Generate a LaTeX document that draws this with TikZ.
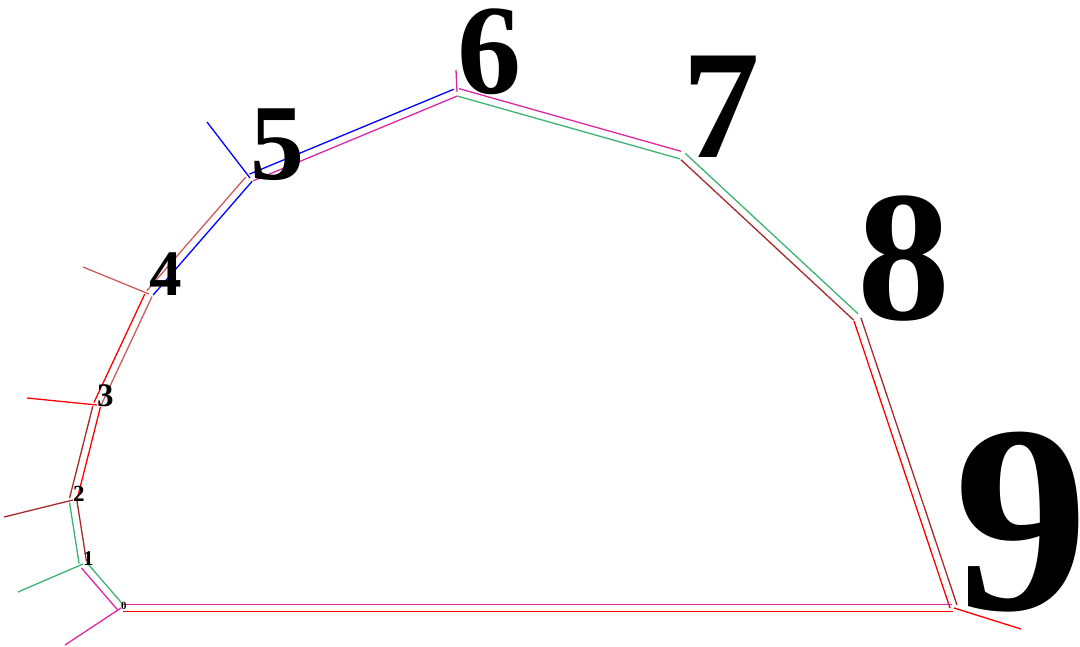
\documentclass[tikz,border=0pt]{standalone}
\usepackage{fontspec}
\setmainfont{Liberation Serif}
\usetikzlibrary{calc}
\definecolor{cmag}{RGB}{220,40,160}
\definecolor{cgreen}{RGB}{60,179,113}
\definecolor{cbrown}{RGB}{165,42,42}
\definecolor{cred}{RGB}{255,0,0}
\definecolor{cind}{RGB}{205,92,92}
\definecolor{cblue}{RGB}{0,0,255}
\begin{document}
\begin{tikzpicture}[x=1pt,y=-1pt,
  he/.style={line width=1.3pt, shorten <=1pt, shorten >=2pt},
  tickline/.style={line width=1.3pt},
  lbl/.style={anchor=base west, inner sep=0pt, outer sep=0pt, yshift=-1.5pt}]
\useasboundingbox (0,0) rectangle (1080,646);
% vertices
\coordinate (v0) at (121,608);
\coordinate (v1) at (83,564);
\coordinate (v2) at (73,500);
\coordinate (v3) at (97,405);
\coordinate (v4) at (149,294);
\coordinate (v5) at (250,178);
\coordinate (v6) at (457,92);
\coordinate (v7) at (682,155.5);
\coordinate (v8) at (857,318);
\coordinate (v9) at (954,608);
% tick ends
\coordinate (t0) at (65,645);
\coordinate (t1) at (18,592);
\coordinate (t2) at (4,517);
\coordinate (t3) at (27,398);
\coordinate (t4) at (83,267);
\coordinate (t5) at (207,122);
\coordinate (t6) at (456,70);
\coordinate (t9) at (1021,629);
% half-edges, each drawn on its left side
\foreach \a/\b/\c in {0/1/cmag, 1/0/cgreen, 1/2/cgreen, 2/1/cbrown, 2/3/cbrown, 3/2/cred,
  3/4/cred, 4/3/cind, 4/5/cind, 5/4/cblue, 5/6/cblue, 6/5/cmag, 6/7/cmag, 7/6/cgreen,
  7/8/cgreen, 8/7/cbrown, 8/9/cbrown, 9/8/cred, 9/0/cred, 0/9/cmag}
  \draw[he,\c] ($(v\a)!3.8pt!90:(v\b)$) -- ($(v\b)!3.8pt!-90:(v\a)$);
% ticks
\foreach \v/\c in {0/cmag, 1/cgreen, 2/cbrown, 3/cred, 4/cind, 5/cblue, 6/cmag, 9/cred}
  \draw[tickline,\c] (v\v) -- (t\v);
% labels
\node[lbl, font=\bfseries\fontsize{11}{11}\selectfont] (n0) at (v0) {0};
\node[lbl, font=\bfseries\fontsize{21}{21}\selectfont] (n1) at (v1) {1};
\node[lbl, font=\bfseries\fontsize{23}{23}\selectfont] (n2) at (v2) {2};
\node[lbl, font=\bfseries\fontsize{33}{33}\selectfont] (n3) at (v3) {3};
\node[lbl, font=\bfseries\fontsize{65}{65}\selectfont] (n4) at (v4) {4};
\node[lbl, font=\bfseries\fontsize{108}{108}\selectfont] (n5) at (v5) {5};
\node[lbl, font=\bfseries\fontsize{128}{128}\selectfont] (n6) at (v6) {6};
\node[lbl, font=\bfseries\fontsize{155}{155}\selectfont] (n7) at (v7) {7};
\node[lbl, font=\bfseries\fontsize{186}{186}\selectfont] (n8) at (v8) {8};
\node[lbl, font=\bfseries\fontsize{268}{268}\selectfont] (n9) at (v9) {9};
\end{tikzpicture}
\end{document}
